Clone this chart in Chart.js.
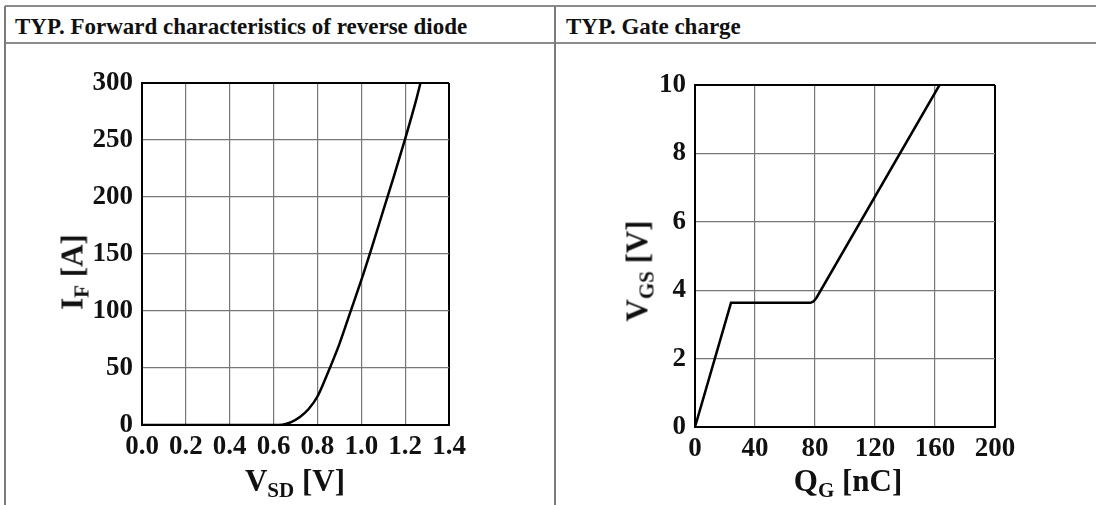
<!DOCTYPE html>
<html lang="en">
<head>
<meta charset="UTF-8">
<title>TYP. diode forward / gate charge</title>
<style>
  body { margin: 0; background: #fff; width: 1096px; height: 505px; position: relative; overflow: hidden;
         font-family: "Liberation Serif", "DejaVu Serif", serif; color: #111; }
  .hline { position: absolute; left: 5px; right: 0; height: 2px; background: #8c8c8c; }
  .vline { position: absolute; top: 6px; bottom: 0; width: 2px; background: #7a7a7a; }
  .head { position: absolute; top: 14px; font-weight: bold; font-size: 23px; line-height: 1.15; white-space: nowrap; }
  .panel { position: absolute; top: 44px; }
  .xt, .yt { position: absolute; font-weight: bold; font-size: 31px; white-space: nowrap; line-height: 1; }
  .xt { transform: translateX(-50%); }
  .yt { transform: translate(-50%, -50%) rotate(-90deg); }
  sub { font-size: 21px; vertical-align: -6px; line-height: 0; }
</style>
<script src="https://cdn.jsdelivr.net/npm/chart.js"></script>
</head>
<body>
  <div class="hline" style="top:5px"></div>
  <div class="hline" style="top:42px"></div>
  <div class="vline" style="left:4px"></div>
  <div class="vline" style="left:554px"></div>
  <div class="head" style="left:15px">TYP. Forward characteristics of reverse diode</div>
  <div class="head" style="left:566px">TYP. Gate charge</div>

  <canvas id="diode" class="panel" style="left:5px" width="550" height="461"></canvas>
  <canvas id="gate" class="panel" style="left:556px" width="540" height="461"></canvas>

  <div class="yt" style="left:72px; top:272px">I<sub>F</sub> [A]</div>
  <div class="xt" style="left:295px; top:465px">V<sub>SD</sub> [V]</div>
  <div class="yt" style="left:637px; top:271px">V<sub>GS</sub> [V]</div>
  <div class="xt" style="left:848px; top:465px">Q<sub>G</sub> [nC]</div>

<script>
  // reverse diode forward characteristic: V_SD [V] vs I_F [A]
  const vsd = [0, 0.2, 0.4, 0.6, 0.64, 0.68, 0.72, 0.76, 0.80, 0.85, 0.90, 0.95, 1.00, 1.05, 1.10, 1.15, 1.20, 1.25, 1.27];
  const iF  = [0, 0, 0, 0, 0.3, 2.5, 7, 14, 25, 47, 71, 99, 127, 157, 188, 219, 251, 285, 300];

  // gate charge: Q_G [nC] vs V_GS [V]
  const qg  = [0, 24, 77, 79, 81, 163];
  const vgs = [0, 3.63, 3.63, 3.67, 3.78, 10];

  Chart.defaults.font.family = '"Liberation Serif", "DejaVu Serif", serif';
  Chart.defaults.font.weight = 'bold';
  Chart.defaults.font.size = 27;
  Chart.defaults.color = '#111';

  function gridColor(ctx) {
    const n = ctx.scale.ticks.length;
    return (ctx.index === 0 || ctx.index === n - 1) ? '#000' : '#777';
  }
  function gridWidth(ctx) {
    const n = ctx.scale.ticks.length;
    return (ctx.index === 0 || ctx.index === n - 1) ? 2 : 1.2;
  }

  function makeChart(id, xs, ys, xOpt, yOpt, pad) {
    return new Chart(document.getElementById(id), {
      type: 'scatter',
      data: {
        datasets: [{
          data: xs.map((x, i) => ({ x: x, y: ys[i] })),
          showLine: true,
          borderColor: '#000',
          borderWidth: 2.5,
          pointRadius: 0,
          tension: xOpt.smooth ? 0.4 : 0,
          cubicInterpolationMode: xOpt.smooth ? 'monotone' : 'default'
        }]
      },
      options: {
        responsive: false,
        animation: false,
        layout: { padding: pad },
        plugins: { legend: { display: false }, tooltip: { enabled: false } },
        scales: {
          x: {
            type: 'linear', min: xOpt.min, max: xOpt.max,
            afterFit: s => { s.height = xOpt.h; },
            border: { color: '#000', width: 2 },
            grid: { color: gridColor, lineWidth: gridWidth, drawTicks: false },
            ticks: { stepSize: xOpt.step, padding: 6, maxRotation: 0, autoSkip: false,
                     callback: xOpt.fmt }
          },
          y: {
            type: 'linear', min: yOpt.min, max: yOpt.max,
            afterFit: s => { s.width = yOpt.w; },
            border: { color: '#000', width: 2 },
            grid: { color: gridColor, lineWidth: gridWidth, drawTicks: false },
            ticks: { stepSize: yOpt.step, padding: 9, autoSkip: false }
          }
        }
      }
    });
  }

  makeChart('diode', vsd, iF,
    { min: 0, max: 1.4, step: 0.2, h: 80, smooth: true, fmt: v => v.toFixed(1) },
    { min: 0, max: 300, step: 50, w: 137 },
    { left: 0, right: 106, top: 39, bottom: 0 });

  makeChart('gate', qg, vgs,
    { min: 0, max: 200, step: 40, h: 78, smooth: false, fmt: v => v },
    { min: 0, max: 10, step: 2, w: 139 },
    { left: 0, right: 101, top: 41, bottom: 0 });
</script>
</body>
</html>
